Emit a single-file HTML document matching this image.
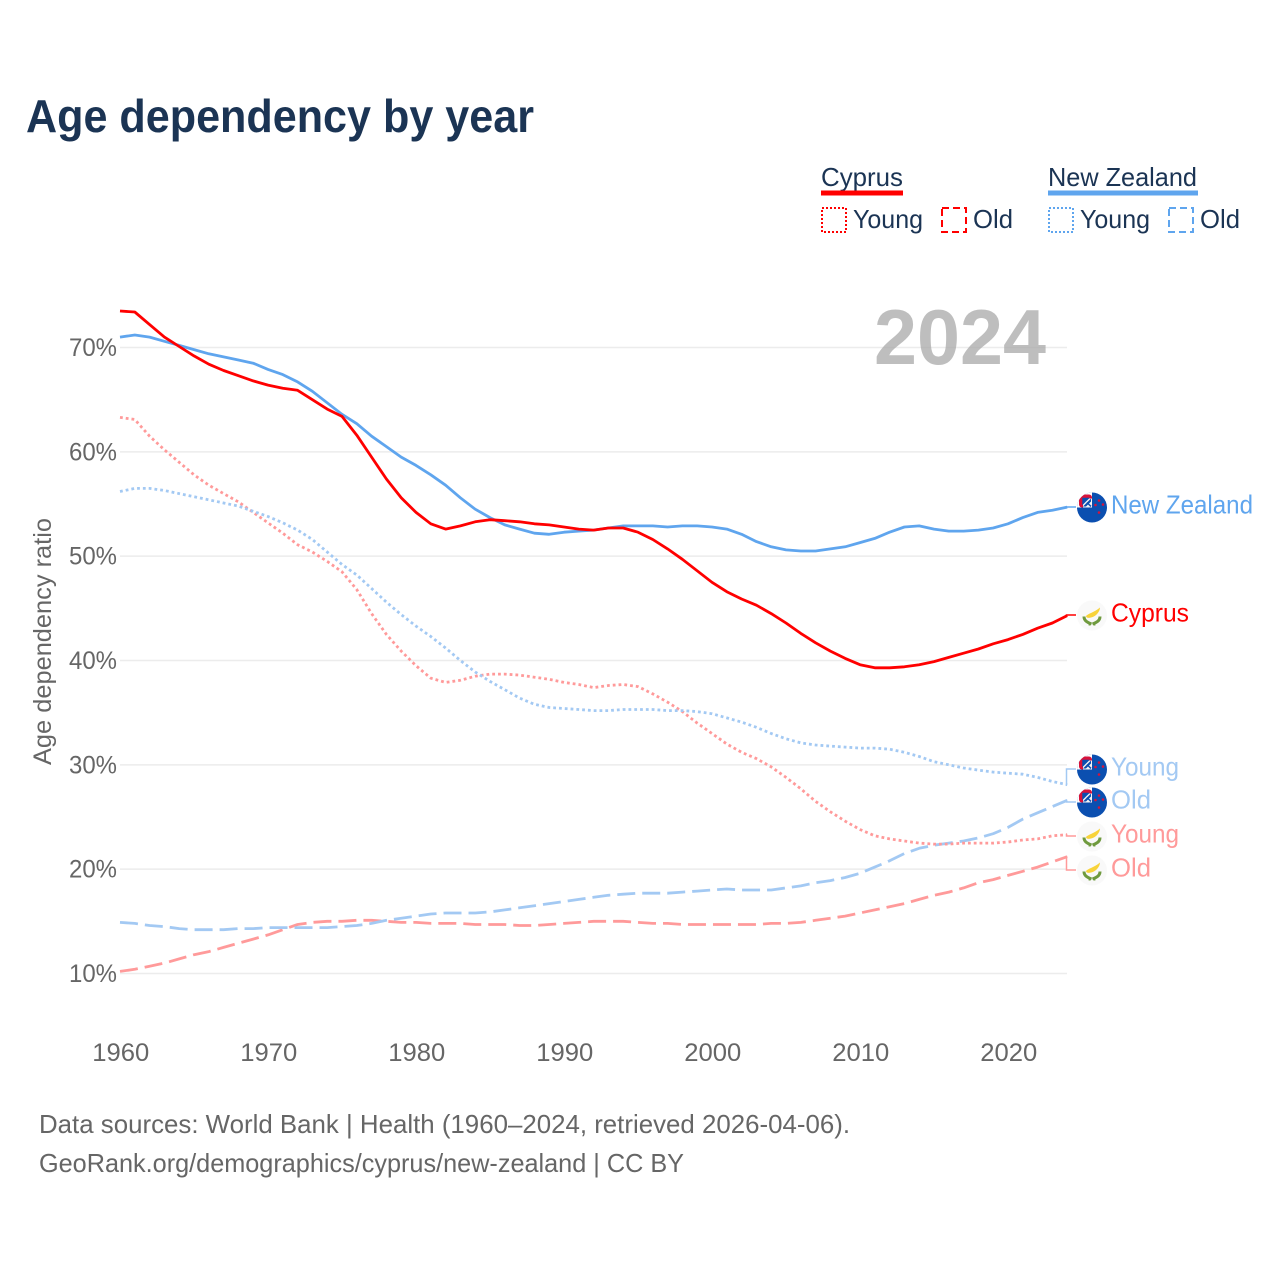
<!DOCTYPE html>
<html lang="en">
<head>
<meta charset="utf-8">
<title>Age dependency by year</title>
<style>
html,body{margin:0;padding:0;background:#fff;width:1280px;height:1280px;overflow:hidden}
svg{display:block}
text{font-family:"Liberation Sans",sans-serif}
</style>
</head>
<body>
<svg id="chart" xmlns="http://www.w3.org/2000/svg" width="1280" height="1280" viewBox="0 0 1280 1280">
  <rect width="1280" height="1280" fill="#fff"/>
  <text x="26" y="132" font-size="46" font-weight="700" fill="#1b3454" textLength="508" lengthAdjust="spacingAndGlyphs">Age dependency by year</text>

  <g fill="#1b3454" font-size="26">
    <text x="821" y="186" textLength="82" lengthAdjust="spacingAndGlyphs">Cyprus</text>
    <rect x="821" y="190.500" width="82" height="5" fill="#ff0000"/>
    <rect x="822" y="208" width="24" height="24" fill="none" stroke="#ff0000" stroke-width="2" stroke-dasharray="2 2"/>
    <text x="853" y="228" textLength="70" lengthAdjust="spacingAndGlyphs">Young</text>
    <rect x="942" y="208" width="24" height="24" fill="none" stroke="#ff0000" stroke-width="2" stroke-dasharray="7 4"/>
    <text x="973" y="228" textLength="40" lengthAdjust="spacingAndGlyphs">Old</text>
    <text x="1048" y="186" textLength="149" lengthAdjust="spacingAndGlyphs">New Zealand</text>
    <rect x="1048" y="190.500" width="150" height="5" fill="#5fa5ee"/>
    <rect x="1049" y="208" width="24" height="24" fill="none" stroke="#5fa5ee" stroke-width="2" stroke-dasharray="2 2"/>
    <text x="1080" y="228" textLength="70" lengthAdjust="spacingAndGlyphs">Young</text>
    <rect x="1169" y="208" width="24" height="24" fill="none" stroke="#5fa5ee" stroke-width="2" stroke-dasharray="7 4"/>
    <text x="1200" y="228" textLength="40" lengthAdjust="spacingAndGlyphs">Old</text>
  </g>

  <g id="grid"></g>
  <text x="874" y="364" font-size="78" font-weight="700" fill="#a8a8a8" fill-opacity="0.75" textLength="172" lengthAdjust="spacingAndGlyphs">2024</text>
  <g id="yticks" fill="#666" font-size="25" text-anchor="end"></g>
  <g id="xticks" fill="#666" font-size="25" text-anchor="middle"></g>
  <text transform="translate(51 765) rotate(-90)" font-size="25" fill="#666" textLength="247" lengthAdjust="spacingAndGlyphs">Age dependency ratio</text>
  <g id="series" fill="none" stroke-linejoin="round"></g>
  <g id="leaders" fill="none" stroke-width="1.500"></g>

  <defs>
    <clipPath id="flag-clip"><circle cx="0" cy="0" r="15"/></clipPath>
    <clipPath id="canton-clip"><rect x="-13" y="-13" width="13" height="13" rx="3"/></clipPath>
    <g id="flag-nz">
      <g clip-path="url(#flag-clip)">
        <rect x="-15" y="-15" width="30" height="30" fill="#0b4fb0"/>
        <rect x="-15" y="-15" width="15" height="15" fill="#fff"/>
        <g clip-path="url(#canton-clip)">
          <rect x="-13" y="-13" width="13" height="13" fill="#d8123a"/>
          <rect x="-9" y="-9" width="9" height="9" fill="#f4f4f4"/>
          <path d="M-9 -9 L-4 -9 L-9 -4 Z M-5 -5 L-1 -1" fill="#0b4fb0" stroke="#0b4fb0" stroke-width="1.500"/>
          <path d="M-9 -1 L-6 -1 L-1 -6 L-1 -9 Z" fill="#0b4fb0"/>
        </g>
      </g>
      <circle cx="7" cy="-7" r="1.300" fill="#d8123a"/>
      <circle cx="3.500" cy="-2.500" r="1.300" fill="#d8123a"/>
      <circle cx="11" cy="-3" r="1.300" fill="#d8123a"/>
      <circle cx="7" cy="5" r="1.300" fill="#d8123a"/>
    </g>
    <g id="flag-cy">
      <circle r="15" fill="#f9f9f9"/>
      <path d="M-6 0.500 C-4 -2 2 -3 8 -8 C8 -4 4 1 -1 2 C-4 3 -6 2 -6 0.500 Z" fill="#f8d33a"/>
      <path d="M-8 1 C-8 6 -3 7.500 -0.500 8.500 M8 1 C8 6 3 7.500 0.500 8.500" fill="none" stroke="#6f9a3e" stroke-width="3"/>
      <path d="M-2.500 7 L-2.500 10 M2.500 7 L2.500 10" stroke="#6f9a3e" stroke-width="1.800"/>
    </g>
  </defs>
  <g id="labels" font-size="26"></g>

  <g fill="#666" font-size="26">
    <text x="39" y="1133" textLength="811" lengthAdjust="spacingAndGlyphs">Data sources: World Bank | Health (1960–2024, retrieved 2026-04-06).</text>
    <text x="39" y="1172" textLength="645" lengthAdjust="spacingAndGlyphs">GeoRank.org/demographics/cyprus/new-zealand | CC BY</text>
  </g>
</svg>
<script>
const startYear = 1960;
const xTickYears = [1960, 1970, 1980, 1990, 2000, 2010, 2020];
const yTickValues = [10, 20, 30, 40, 50, 60, 70];

const cyprusTotal = [73.5,73.4,72.2,71.0,70.1,69.2,68.4,67.8,67.3,66.8,66.4,66.1,65.9,65.0,64.1,63.4,61.6,59.5,57.4,55.6,54.2,53.1,52.6,52.9,53.3,53.5,53.4,53.3,53.1,53.0,52.8,52.6,52.5,52.7,52.7,52.3,51.6,50.7,49.7,48.6,47.5,46.6,45.9,45.3,44.5,43.6,42.6,41.7,40.9,40.2,39.6,39.3,39.3,39.4,39.6,39.9,40.3,40.7,41.1,41.6,42.0,42.5,43.1,43.6,44.3];
const newZealandTotal = [71.0,71.2,71.0,70.6,70.2,69.8,69.4,69.1,68.8,68.5,67.9,67.4,66.7,65.8,64.7,63.6,62.7,61.5,60.5,59.5,58.7,57.8,56.8,55.6,54.5,53.7,53.0,52.6,52.2,52.1,52.3,52.4,52.5,52.7,52.9,52.9,52.9,52.8,52.9,52.9,52.8,52.6,52.1,51.4,50.9,50.6,50.5,50.5,50.7,50.9,51.3,51.7,52.3,52.8,52.9,52.6,52.4,52.4,52.5,52.7,53.1,53.7,54.2,54.4,54.7];
const cyprusYoung = [63.3,63.1,61.5,60.2,59.0,57.8,56.8,56.0,55.2,54.2,53.2,52.2,51.1,50.4,49.5,48.5,46.8,44.5,42.5,40.9,39.5,38.3,37.9,38.1,38.5,38.7,38.7,38.6,38.4,38.2,37.9,37.7,37.4,37.6,37.7,37.5,36.8,36.0,35.1,34.0,33.0,32.0,31.2,30.6,29.8,28.8,27.7,26.5,25.5,24.6,23.8,23.2,22.9,22.7,22.5,22.4,22.4,22.5,22.5,22.5,22.6,22.8,22.9,23.2,23.3];
const newZealandYoung = [56.2,56.5,56.5,56.3,56.0,55.7,55.4,55.1,54.8,54.3,53.8,53.2,52.5,51.6,50.4,49.2,48.2,46.9,45.6,44.4,43.3,42.3,41.2,40.0,38.9,38.0,37.2,36.4,35.8,35.5,35.4,35.3,35.2,35.2,35.3,35.3,35.3,35.2,35.2,35.1,34.9,34.5,34.1,33.6,33.0,32.5,32.1,31.9,31.8,31.7,31.6,31.6,31.5,31.2,30.8,30.3,30.0,29.7,29.5,29.3,29.2,29.1,28.8,28.4,28.1];
const cyprusOld = [10.2,10.4,10.7,11.0,11.4,11.8,12.1,12.5,12.9,13.3,13.7,14.2,14.7,14.9,15.0,15.0,15.1,15.1,15.0,14.9,14.9,14.8,14.8,14.8,14.7,14.7,14.7,14.6,14.6,14.7,14.8,14.9,15.0,15.0,15.0,14.9,14.8,14.8,14.7,14.7,14.7,14.7,14.7,14.7,14.8,14.8,14.9,15.1,15.3,15.5,15.8,16.1,16.4,16.7,17.1,17.5,17.8,18.2,18.7,19.0,19.4,19.8,20.2,20.7,21.2];
const newZealandOld = [14.9,14.8,14.6,14.5,14.3,14.2,14.2,14.2,14.3,14.3,14.4,14.4,14.4,14.4,14.4,14.5,14.6,14.8,15.1,15.3,15.5,15.7,15.8,15.8,15.8,15.9,16.1,16.3,16.5,16.7,16.9,17.1,17.3,17.5,17.6,17.7,17.7,17.7,17.8,17.9,18.0,18.1,18.0,18.0,18.0,18.2,18.4,18.7,18.9,19.2,19.6,20.2,20.8,21.5,22.0,22.3,22.5,22.7,23.0,23.4,24.0,24.8,25.4,26.0,26.6];

const NS = 'http://www.w3.org/2000/svg';
function xScale(year) { return 120 + (year - 1960) * 14.8; }
function yScale(v) { return 973.5 - (v - 10) * 10.433; }
function make(tag, parent, attrs) {
  const el = document.createElementNS(NS, tag);
  Object.keys(attrs).forEach(function (k) { el.setAttribute(k, attrs[k]); });
  parent.appendChild(el);
  return el;
}

const gridGroup = document.getElementById('grid');
const yTickGroup = document.getElementById('yticks');
const xTickGroup = document.getElementById('xticks');
const seriesGroup = document.getElementById('series');
const leaderGroup = document.getElementById('leaders');
const labelGroup = document.getElementById('labels');

yTickValues.forEach(function (v) {
  const line = make('line', gridGroup, { x1: 120, x2: 1067, y1: yScale(v), y2: yScale(v), stroke: '#ececec', 'stroke-width': 1.5 });
  
  
  const t = make('text', yTickGroup, { x: 117, y: yScale(v) + 8.5, textLength: 48, lengthAdjust: 'spacingAndGlyphs' });
  
  
  t.textContent = v + '%';
});

xTickYears.forEach(function (year) {
  const t = make('text', xTickGroup, { x: xScale(year) + 0.8, y: 1061, textLength: 57, lengthAdjust: 'spacingAndGlyphs' });
  
  
  t.textContent = year;
});

function drawLine(name, values, color, width, dash) {
  const points = values.map(function (v, i) { return xScale(startYear + i).toFixed(1) + ',' + yScale(v).toFixed(1); });
  const attrs = { points: points.join(' '), stroke: color, 'stroke-width': width };
  if (dash) { attrs['stroke-dasharray'] = dash; }
  const el = make('polyline', seriesGroup, attrs);
  
  
}

const RED_LIGHT = '#ff9a9a';
const BLUE_LIGHT = '#a3c9f3';
drawLine('line-cyprus-old', cyprusOld, RED_LIGHT, 2.8, '18 7');
drawLine('line-new-zealand-old', newZealandOld, BLUE_LIGHT, 2.8, '18 7');
drawLine('line-cyprus-young', cyprusYoung, RED_LIGHT, 2.8, '2.8 3');
drawLine('line-new-zealand-young', newZealandYoung, BLUE_LIGHT, 2.8, '2.8 3');
drawLine('line-new-zealand-total', newZealandTotal, '#5fa5ee', 2.8, '');
drawLine('line-cyprus-total', cyprusTotal, '#ff0000', 2.8, '');

function drawEndLabel(name, text, values, color, flag, labelY, width) {
  const endX = xScale(startYear + values.length - 1);
  const endY = yScale(values[values.length - 1]);
  const leader = make('path', leaderGroup, { d: 'M' + endX + ' ' + endY + ' L1066.5 ' + endY + ' L1066.5 ' + labelY + ' L1076 ' + labelY, stroke: color });
  
  
  const icon = make('use', labelGroup, { href: '#' + flag, x: 1092, y: labelY + 0.5 });
  
  
  const t = make('text', labelGroup, { x: 1111, y: labelY + 6.5, fill: color, textLength: width, lengthAdjust: 'spacingAndGlyphs' });
  
  
  t.textContent = text;
}

drawEndLabel('end-new-zealand-total', 'New Zealand', newZealandTotal, '#5fa5ee', 'flag-nz', 507, 142);
drawEndLabel('end-cyprus-total', 'Cyprus', cyprusTotal, '#ff0000', 'flag-cy', 615, 78);
drawEndLabel('end-new-zealand-young', 'Young', newZealandYoung, BLUE_LIGHT, 'flag-nz', 769, 68);
drawEndLabel('end-new-zealand-old', 'Old', newZealandOld, BLUE_LIGHT, 'flag-nz', 802, 40);
drawEndLabel('end-cyprus-young', 'Young', cyprusYoung, RED_LIGHT, 'flag-cy', 836, 68);
drawEndLabel('end-cyprus-old', 'Old', cyprusOld, RED_LIGHT, 'flag-cy', 870, 40);
</script>
</body>
</html>
